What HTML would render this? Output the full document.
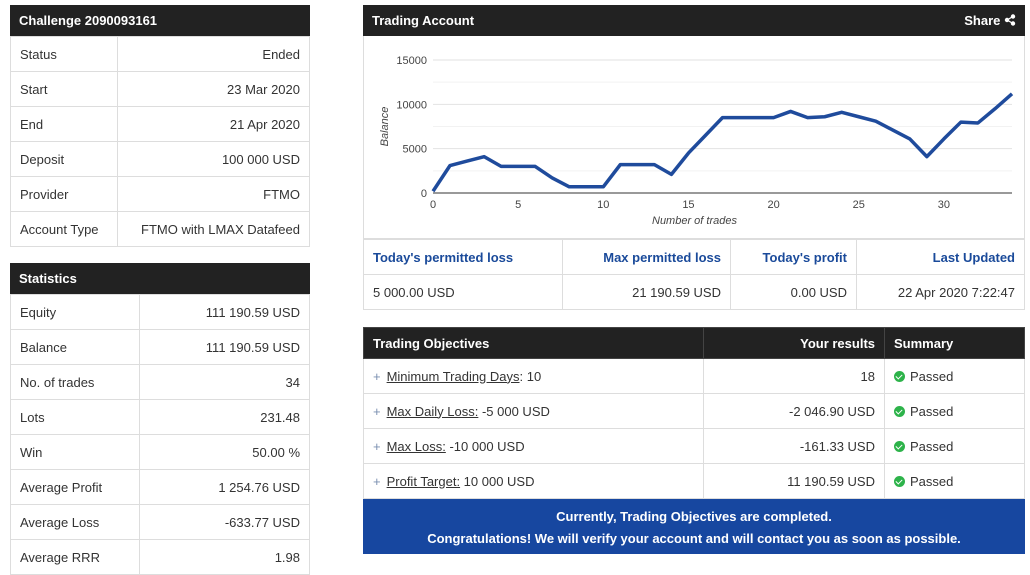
<!DOCTYPE html>
<html><head><meta charset="utf-8"><style>
*{box-sizing:border-box;margin:0;padding:0}
body{width:1030px;height:567px;background:#fff;font-family:"Liberation Sans",Arial,sans-serif;font-size:13px;color:#333;position:relative;overflow:hidden}
.abs{position:absolute}
.hdr{background:#222;color:#fff;font-weight:bold;height:31px;line-height:31px;padding-left:9px;font-size:13px}
table{border-collapse:collapse;width:100%}
td{border:1px solid #ddd;height:35px;padding:0 9px;font-size:13px}
.r{text-align:right}
.b{color:#1a4a9a;font-weight:bold}
.ok{display:inline-block;width:11px;height:11px;border-radius:50%;background:#2db34a;vertical-align:-1px;margin-right:5px;position:relative}
.ok:after{content:"";position:absolute;left:3px;top:2px;width:3px;height:5px;border:solid #fff;border-width:0 1.5px 1.5px 0;transform:rotate(45deg)}
.plus{color:#7a8fb0;margin-right:6px}
u{color:#333}
</style></head><body>
<div class="abs" style="left:10px;top:5px;width:300px">
<div class="hdr">Challenge 2090093161</div>
<table>
<tr><td style="width:107px">Status</td><td class="r">Ended</td></tr>
<tr><td>Start</td><td class="r">23 Mar 2020</td></tr>
<tr><td>End</td><td class="r">21 Apr 2020</td></tr>
<tr><td>Deposit</td><td class="r">100 000 USD</td></tr>
<tr><td>Provider</td><td class="r">FTMO</td></tr>
<tr><td>Account Type</td><td class="r">FTMO with LMAX Datafeed</td></tr>
</table></div>
<div class="abs" style="left:10px;top:263px;width:300px">
<div class="hdr">Statistics</div>
<table>
<tr><td style="width:129px">Equity</td><td class="r">111 190.59 USD</td></tr>
<tr><td>Balance</td><td class="r">111 190.59 USD</td></tr>
<tr><td>No. of trades</td><td class="r">34</td></tr>
<tr><td>Lots</td><td class="r">231.48</td></tr>
<tr><td>Win</td><td class="r">50.00 %</td></tr>
<tr><td>Average Profit</td><td class="r">1 254.76 USD</td></tr>
<tr><td>Average Loss</td><td class="r">-633.77 USD</td></tr>
<tr><td>Average RRR</td><td class="r">1.98</td></tr>
</table></div>

<div class="abs" style="left:363px;top:5px;width:662px">
<div class="hdr" style="position:relative">Trading Account<span style="position:absolute;right:9px">Share <svg width="12" height="12" style="vertical-align:-1px"><circle cx="9" cy="2.5" r="2.2" fill="#fff"/><circle cx="9" cy="9.5" r="2.2" fill="#fff"/><circle cx="3" cy="6" r="2.2" fill="#fff"/><path d="M3 6L9 2.5M3 6L9 9.5" stroke="#fff" stroke-width="1.3"/></svg></span></div>
<div style="height:203px;border:1px solid #ddd;border-top:none;position:relative">
<svg id="chart" width="660" height="203" style="position:absolute;left:0;top:0"></svg>
</div>
<table>
<tr><td class="b" style="width:199px">Today's permitted loss</td><td class="b r" style="width:168px">Max permitted loss</td><td class="b r" style="width:126px">Today's profit</td><td class="b r">Last Updated</td></tr>
<tr><td>5 000.00 USD</td><td class="r">21 190.59 USD</td><td class="r">0.00 USD</td><td class="r">22 Apr 2020 7:22:47</td></tr>
</table></div>

<div class="abs" style="left:363px;top:327px;width:662px">
<table>
<tr style="background:#222;color:#fff;font-weight:bold"><td style="width:340px;height:31px;border-color:#444">Trading Objectives</td><td class="r" style="width:181px;height:31px;border-color:#444">Your results</td><td style="height:31px;border-color:#444">Summary</td></tr>
<tr><td><span class="plus">+</span><u>Minimum Trading Days</u>: 10</td><td class="r">18</td><td><span class="ok"></span>Passed</td></tr>
<tr><td><span class="plus">+</span><u>Max Daily Loss:</u> -5 000 USD</td><td class="r">-2 046.90 USD</td><td><span class="ok"></span>Passed</td></tr>
<tr><td><span class="plus">+</span><u>Max Loss:</u> -10 000 USD</td><td class="r">-161.33 USD</td><td><span class="ok"></span>Passed</td></tr>
<tr><td><span class="plus">+</span><u>Profit Target:</u> 10 000 USD</td><td class="r">11 190.59 USD</td><td><span class="ok"></span>Passed</td></tr>
</table>
<div style="background:#1747a0;color:#fff;font-weight:bold;text-align:center;height:55px;padding-top:7px;line-height:22px;font-size:13px">Currently, Trading Objectives are completed.<br>Congratulations! We will verify your account and will contact you as soon as possible.</div>
</div>
<script>
const trades=[0,1,2,3,4,5,6,7,8,9,10,11,12,13,14,15,16,17,18,19,20,21,22,23,24,25,26,27,28,29,30,31,32,33,34];
const balance=[200,3100,3600,4100,3000,3000,3000,1700,700,700,700,3200,3200,3200,2100,4500,6500,8500,8500,8500,8500,9200,8500,8600,9100,8600,8100,7100,6100,4100,6100,8000,7900,9500,11190];
const yTicks=[0,5000,10000,15000];
const xTicks=[0,5,10,15,20,25,30];
const NS="http://www.w3.org/2000/svg";
const svg=document.getElementById('chart');
const x0=69,x1=648,yTop=24,yBot=157;
const sx=v=>x0+(v-0)/34*(x1-x0);
const sy=v=>yBot-v/15000*(yBot-yTop);
function mk(t,a){const e=document.createElementNS(NS,t);for(const k in a)e.setAttribute(k,a[k]);svg.appendChild(e);return e;}
for(let v=2500;v<=15000;v+=2500){const g=mk('line',{x1:x0,x2:x1,y1:sy(v),y2:sy(v),stroke:v%5000?'#f2f2f2':'#e2e2e2'});

}
yTicks.forEach(v=>{const t=mk('text',{x:x0-6,y:sy(v)+4,'text-anchor':'end','font-size':'11','fill':'#444','font-family':'Liberation Sans'});t.textContent=v;

});
xTicks.forEach(v=>{const t=mk('text',{x:sx(v),y:yBot+15,'text-anchor':'middle','font-size':'11','fill':'#444','font-family':'Liberation Sans'});t.textContent=v;

});
const ax=mk('line',{x1:x0,x2:x1,y1:yBot,y2:yBot,stroke:'#333'});


const xt=mk('text',{x:(x0+x1)/2-28,y:yBot+31,'text-anchor':'middle','font-size':'11','font-style':'italic','fill':'#444','font-family':'Liberation Sans'});xt.textContent='Number of trades';


const yt=mk('text',{x:0,y:0,transform:`translate(24,${(yTop+yBot)/2}) rotate(-90)`,'text-anchor':'middle','font-size':'11','font-style':'italic','fill':'#444','font-family':'Liberation Sans'});yt.textContent='Balance';


const pts=trades.map((t,i)=>sx(t)+','+sy(balance[i])).join(' ');
const pl=mk('polyline',{points:pts,fill:'none',stroke:'#1f4b9c','stroke-width':'3.5','stroke-linejoin':'round'});


</script>
</body></html>
